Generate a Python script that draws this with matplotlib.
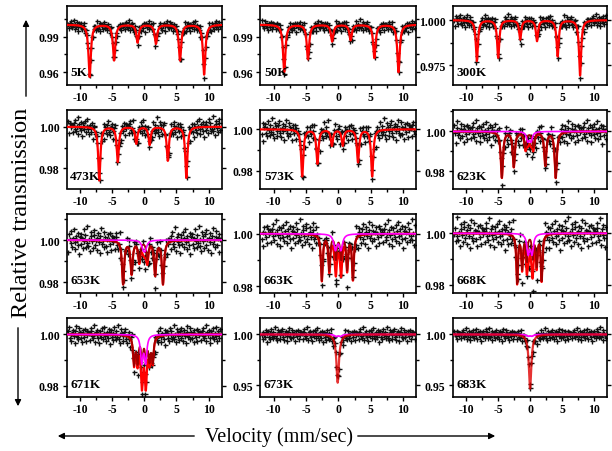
import numpy as np
import matplotlib
matplotlib.use('Agg')
import matplotlib.pyplot as plt
from matplotlib.ticker import FormatStrFormatter, FixedLocator

plt.rcParams['font.family'] = ['Liberation Serif', 'DejaVu Serif']
plt.rcParams['axes.unicode_minus'] = False

# panel labels, in reading order
temps = ['5K', '50K', '300K', '473K', '573K', '623K',
         '653K', '663K', '668K', '671K', '673K', '683K']

# main (magnetic) component: line positions (mm/s), depths, half widths
main_pos = [
    [-8.5, -4.7, -1.05, 1.8, 5.55, 9.3],
    [-8.36, -4.69, -0.96, 1.9, 5.57, 9.3],
    [-8.3, -4.97, -1.54, 1.08, 4.3, 7.8],
    [-7.0, -4.13, -1.25, 0.83, 3.65, 6.53],
    [-5.58, -3.23, -0.99, 0.68, 3.04, 5.23],
    [-4.4, -2.54, -0.72, 0.5, 2.37, 4.0],
    [-3.3, -1.98, -0.79, 0.47, 1.68, 2.9],
    [-2.55, -1.4, -0.37, 0.43, 1.36, 2.25],
    [-2.02, -1.24, -0.52, 0.41, 1.03, 1.8],
    [-1.6, -1.05, -0.35, 0.25, 0.8, 1.3],
    [-0.1],
    [0.0],
]
main_depth = [
    [0.044, 0.030, 0.015, 0.016, 0.030, 0.042],
    [0.040, 0.029, 0.014, 0.013, 0.028, 0.040],
    [0.0226, 0.0207, 0.0106, 0.0115, 0.020, 0.0306],
    [0.0257, 0.0168, 0.008, 0.0086, 0.0162, 0.0245],
    [0.0226, 0.0164, 0.0077, 0.0077, 0.0157, 0.0226],
    [0.023, 0.0175, 0.0075, 0.0075, 0.0167, 0.023],
    [0.0205, 0.0155, 0.0095, 0.0085, 0.016, 0.0205],
    [0.0175, 0.0135, 0.009, 0.009, 0.013, 0.017],
    [0.019, 0.013, 0.010, 0.009, 0.012, 0.018],
    [0.011, 0.010, 0.0085, 0.0085, 0.009, 0.010],
    [0.046],
    [0.052],
]
main_hw = [0.22, 0.22, 0.2, 0.2, 0.2, 0.2, 0.2, 0.17, 0.15, 0.18, 0.22, 0.22]

# paramagnetic doublet (magenta), only from 623K on
dbl_pos = [None, None, None, None, None,
           [-0.35, 0.15], [-0.15, 0.15], [-0.45, 0.4], [-0.3, 0.3],
           [-0.4, 0.2], [-0.35, 0.35], [-0.3, 0.3]]
dbl_depth = [0, 0, 0, 0, 0, 0.0045, 0.0035, 0.0058, 0.0075, 0.0105, 0.0018, 0.0015]
dbl_hw = [0, 0, 0, 0, 0, 0.25, 0.3, 0.3, 0.25, 0.22, 0.3, 0.3]

# y axis: limits and major ticks
ylims = [(0.9496, 1.0157), (0.9496, 1.0157), (0.9644, 1.0078),
         (0.9704, 1.008), (0.9715, 1.0093), (0.9715, 1.0107),
         (0.9752, 1.0123), (0.9777, 1.0075), (0.977, 1.0075),
         (0.9758, 1.0064), (0.9388, 1.0162), (0.9388, 1.0162)]
yticks = [[0.96, 0.99], [0.96, 0.99], [0.975, 1.000],
          [0.98, 1.00], [0.98, 1.00], [0.98, 1.00],
          [0.98, 1.00], [0.98, 1.00], [0.98, 1.00],
          [0.98, 1.00], [0.95, 1.00], [0.95, 1.00]]
yfmt = ['%.2f', '%.2f', '%.3f'] + ['%.2f'] * 9

# scatter of the measured counts around the fit (in units of sigma)
resid = [0.3, -1.2, 0.8, 1.5, -0.4, -0.9, 0.1, 2.1, -1.6, 0.6, -0.2, 1.1,
         -0.7, -1.9, 0.9, 0.2, -0.5, 1.4, -1.1, 0.4, 1.8, -0.3, -1.4, 0.7,
         0.0, -0.8, 1.2, -2.2, 0.5, 1.0, -0.6, 0.3, -1.3, 1.7, -0.1, 0.8,
         -1.0, -0.4, 2.3, -0.9, 0.2, -1.7, 1.3, 0.6, -0.2, -1.2, 0.9, 1.6,
         -0.7, 0.1, -1.5, 0.4, 1.1, -0.3, -2.0, 0.7, 1.9, -0.6, 0.0, -1.1,
         1.4, 0.5, -0.8, 0.3, -1.8, 1.0, 0.2, -0.5, 1.2, -1.4, 0.8, -0.1, 0.6]
sigma = [0.0022, 0.0022, 0.0017, 0.0022, 0.0025, 0.0028,
         0.003, 0.0025, 0.0028, 0.0017, 0.0034, 0.003]
shift = [0, 17, 33, 5, 48, 21, 60, 11, 39, 27, 52, 8]

vel = np.linspace(-11.8, 11.8, 200)
vfine = np.linspace(-12.1, 12.0, 1500)


def lines(v, pos, depth, hw):
    dip = np.zeros_like(v)
    if pos is None:
        return dip
    if np.isscalar(depth):
        depth = [depth] * len(pos)
    for p, d in zip(pos, depth):
        dip += d * hw ** 2 / ((v - p) ** 2 + hw ** 2)
    return dip


W, H = 612, 452
col_left = [66.5, 260, 452.5]
col_w = [155, 156, 154.5]
row_top = [7, 111, 215, 319]
row_h = 78.5

fig = plt.figure(figsize=(6.12, 4.52), dpi=100)
res = np.array(resid)

for k in range(12):
    r, c = divmod(k, 3)
    ax = fig.add_axes([col_left[c] / W, 1 - (row_top[r] + row_h) / H,
                       col_w[c] / W, row_h / H])
    m_f = lines(vfine, main_pos[k], main_depth[k], main_hw[k])
    d_f = lines(vfine, dbl_pos[k], dbl_depth[k], dbl_hw[k])
    m_v = lines(vel, main_pos[k], main_depth[k], main_hw[k])
    d_v = lines(vel, dbl_pos[k], dbl_depth[k], dbl_hw[k])
    noise = np.resize(np.roll(res, shift[k]), len(vel)) * sigma[k]
    ax.plot(vel, 1 - m_v - d_v + noise, '+', color='#111111', ms=3.6, mew=1.0, zorder=2)
    if k >= 10:
        # single line: fit and doublet nearly coincide
        ax.plot(vfine, 1 - d_f, color='#ff00ff', lw=1.3, zorder=3)
        ax.plot(vfine, 1 - m_f - d_f, color='#e00000', lw=1.6, alpha=0.8, zorder=4)
    else:
        ax.plot(vfine, 1 - m_f - d_f, color='#ff0000', lw=1.6, zorder=3)
        if dbl_pos[k] is not None:
            ax.plot(vfine, 1 - m_f, color='#a00000', lw=1.3, zorder=4)
            ax.plot(vfine, 1 - d_f, color='#ff00ff', lw=1.2, zorder=5)

    ax.set_xlim(-12.1, 12.0)
    ax.set_ylim(*ylims[k])
    ax.set_xticks([-10, -5, 0, 5, 10])
    ax.xaxis.set_minor_locator(FixedLocator([-7.5, -2.5, 2.5, 7.5]))
    t0, t1 = yticks[k]
    step = t1 - t0
    ax.set_yticks([t0, t1])
    ax.yaxis.set_minor_locator(FixedLocator([t0 - step / 2, t0 + step / 2, t1 + step / 2]))
    ax.yaxis.set_major_formatter(FormatStrFormatter(yfmt[k]))
    ax.tick_params(which='both', direction='out', right=True, labelsize=8.5,
                   width=1, length=3, pad=2)
    ax.tick_params(which='minor', length=2)
    for lab in ax.get_xticklabels() + ax.get_yticklabels():
        lab.set_fontweight('bold')
    for sp in ax.spines.values():
        sp.set_linewidth(1.2)
    ax.text(0.025, 0.08, temps[k], transform=ax.transAxes, fontsize=9.5,
            fontweight='bold', ha='left', va='bottom', zorder=6)

fig.text(22 / W, 1 - 213 / H, 'Relative transmission', rotation=90,
         fontsize=17.5, ha='center', va='center')
fig.text(279 / W, 1 - 437 / H, 'Velocity (mm/sec)', fontsize=14.5,
         ha='center', va='center')

arrow = dict(arrowstyle='-|>', color='black', lw=1.0, mutation_scale=9)
fig.add_artist(matplotlib.patches.FancyArrowPatch(
    (26 / W, 1 - 100 / H), (26 / W, 1 - 18 / H), transform=fig.transFigure, **arrow))
fig.add_artist(matplotlib.patches.FancyArrowPatch(
    (18 / W, 1 - 326 / H), (18 / W, 1 - 410 / H), transform=fig.transFigure, **arrow))
fig.add_artist(matplotlib.patches.FancyArrowPatch(
    (197 / W, 1 - 437 / H), (55 / W, 1 - 437 / H), transform=fig.transFigure, **arrow))
fig.add_artist(matplotlib.patches.FancyArrowPatch(
    (355 / W, 1 - 437 / H), (498 / W, 1 - 437 / H), transform=fig.transFigure, **arrow))

fig.savefig('out.png', dpi=100)
